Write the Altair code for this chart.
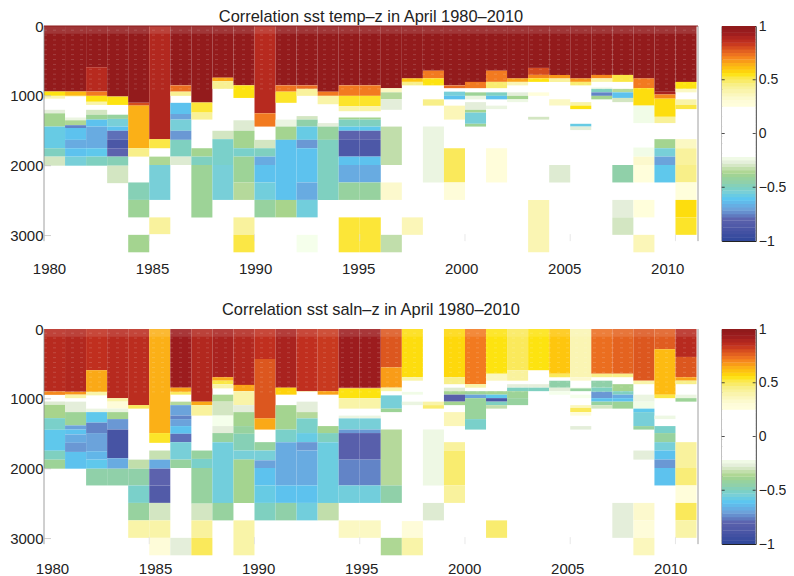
import altair as alt
import pandas as pd

FONT = "Liberation Sans"
INK = "#222222"

# value -> colour of the colour bar
cmap_values = [-1, -0.8, -0.71, -0.61, -0.55, -0.46, -0.37, -0.27, -0.21, 0.24, 0.31, 0.44, 0.55, 0.64, 0.72, 0.84, 0.93, 1]
cmap_colors = ["#2e479b", "#5c62ad", "#6d9fd8", "#5cc6f0", "#78cfd8", "#8fcfac", "#a8d48c", "#e4eeda", "#ffffff",
               "#ffffff", "#fdfbd8", "#f8f092", "#fde310", "#fbb017", "#f27a20", "#c4321f", "#9c1c1e", "#8c1a1a"]

years = list(range(1980, 2011))

# each column: (bottom depth of the run, correlation); 0 is a white run
temp_columns = [
 [(938,.97),(1000,.55),(1040,.38),(1200,0),(1250,-.27),(1440,-.38),(1750,-.58),(1870,-.5),(2000,-.3)],
 [(938,.97),(1000,.62),(1010,.38),(1310,0),(1350,-.25),(1420,-.36),(1460,-.75),(1630,-.62),(1750,-.68),(1870,-.62),(2000,-.55)],
 [(590,.97),(938,.87),(1000,.72),(1085,.55),(1130,.4),(1200,0),(1270,-.3),(1340,-.4),(1440,-.62),(1750,-.68),(1870,-.6),(2000,-.5)],
 [(1010,.97),(1130,.55),(1270,0),(1330,-.42),(1440,-.55),(1500,-.62),(1630,-.78),(1750,-.88),(1870,-.8),(2000,-.48),(2250,-.3)],
 [(1100,.97),(1140,.8),(1750,.64),(1870,.45),(2240,0),(2490,-.48),(2740,-.4),(2990,0),(3240,-.38)],
 [(1620,.88),(1750,.52),(1870,0),(1990,-.36),(2490,-.55),(2740,0),(2980,.42)],
 [(850,.97),(940,.74),(1000,.44),(1100,0),(1260,-.62),(1340,-.7),(1500,-.55),(1630,-.72),(1870,-.5),(1990,-.28)],
 [(1095,.97),(1240,.53),(1340,.43),(1750,0),(1870,-.38),(1990,-.5),(2740,-.4)],
 [(740,.97),(790,.65),(900,.44),(1500,0),(1620,-.3),(1990,-.52),(2490,-.55)],
 [(850,.97),(1030,.55),(1350,0),(1500,-.28),(1750,-.38),(1870,-.52),(2240,-.4),(2490,-.35),(2740,0),(2990,.42),(3240,.52)],
 [(1250,.87),(1440,.72),(1630,0),(1750,-.3),(1870,-.5),(1990,-.68),(2240,-.62),(2490,-.56),(2740,-.42)],
 [(850,.97),(940,.73),(1100,.54),(1340,0),(1440,-.25),(1630,-.38),(2490,-.62),(2740,-.37)],
 [(850,.97),(900,.74),(1000,.42),(1290,0),(1340,-.3),(1440,-.45),(1630,-.58),(1750,-.72),(2240,-.62),(2490,-.68),(2740,-.56),(2990,0),(3240,-.22)],
 [(940,.97),(1000,.72),(1120,.4),(1390,0),(1440,-.27),(1630,-.42),(2490,-.5)],
 [(850,.97),(1000,.72),(1150,.54),(1220,.4),(1310,0),(1340,-.38),(1440,-.5),(1500,-.6),(1630,-.8),(1870,-.87),(1990,-.62),(2240,-.68),(2490,-.42),(2740,0),(3240,.53)],
 [(850,.97),(1000,.72),(1150,.54),(1220,.4),(1310,0),(1340,-.38),(1440,-.5),(1500,-.6),(1630,-.8),(1870,-.87),(1990,-.62),(2240,-.68),(2490,-.42),(2740,0),(3240,.53)],
 [(890,.97),(950,.35),(1050,-.35),(1200,-.27),(1440,0),(1990,-.33),(2240,0),(2490,.33),(2990,0),(3240,-.33)],
 [(750,.97),(800,.6),(850,.45),(2740,0),(2990,.37)],
 [(640,.97),(750,.72),(850,.55),(1050,0),(1140,.45),(1440,0),(2240,-.25)],
 [(850,.97),(890,.75),(940,0),(1000,-.55),(1050,-.62),(1140,0),(1340,.37),(1750,0),(2240,.5),(2490,.3)],
 [(800,.97),(890,.72),(950,0),(1000,-.4),(1050,-.25),(1090,0),(1200,-.27),(1240,-.38),(1400,-.55),(1440,-.4)],
 [(640,.97),(800,.72),(890,.48),(950,0),(1000,-.5),(1050,-.62),(1140,0),(1190,-.25),(1750,0),(2240,.28)],
 [(750,.97),(800,.66),(850,.38),(950,0),(1000,-.27),(1050,-.38),(1090,-.24)],
 [(600,.97),(700,.8),(750,.7),(800,.55),(950,0),(1000,.27),(1300,0),(1340,-.3),(2490,0),(3240,.38)],
 [(700,.97),(750,.68),(800,.42),(1050,0),(1140,.35),(1990,0),(2240,-.28)],
 [(750,.97),(800,.68),(850,.48),(1090,0),(1140,.4),(1190,.55),(1400,0),(1440,-.58),(1490,-.27)],
 [(700,.97),(750,.7),(800,.4),(880,0),(900,-.24),(950,-.5),(1000,-.75),(1050,-.38)],
 [(700,.97),(800,.52),(900,0),(950,-.35),(1030,-.62),(1090,-.3),(1990,0),(2240,-.45),(2490,0),(2740,-.27),(2990,-.3)],
 [(750,.97),(890,.72),(1140,.56),(1390,-.23),(1740,0),(1870,-.23),(1990,.33),(2240,.27),(2490,0),(2740,.27),(2990,0),(3240,.37)],
 [(940,.97),(980,.9),(1040,.7),(1300,.56),(1390,.43),(1620,0),(1750,-.38),(1870,-.55),(1990,-.7),(2240,-.6)],
 [(800,.97),(900,.55),(950,.35),(1050,0),(1130,.4),(1190,.52),(1620,0),(1750,.35),(1990,.42),(2240,.45),(2490,.27),(2740,.56),(2990,.54)],
]

saln_columns = [
 [(895,.87),(943,.7),(1038,0),(1086,-.28),(1276,-.37),(1443,-.52),(1743,-.6),(1871,-.5),(2000,-.4)],
 [(900,.88),(940,.68),(990,.4),(1040,0),(1190,-.27),(1380,-.4),(1440,-.7),(1510,-.62),(1630,-.68),(1760,-.72),(2000,-.62)],
 [(590,.85),(900,.65),(950,.4),(1140,0),(1190,-.25),(1340,-.6),(1490,-.75),(1750,-.7),(1870,-.65),(2000,-.6),(2240,-.45)],
 [(990,.87),(1040,.4),(1140,.3),(1190,-.25),(1290,-.38),(1440,-.72),(1850,-.9),(2000,-.68),(2240,-.45)],
 [(1090,.86),(1140,.5),(1870,0),(2000,-.33),(2240,-.45),(2490,-.52),(2740,-.42),(2990,.4)],
 [(1490,.64),(1630,.54),(1740,0),(1870,-.32),(2000,-.68),(2240,-.8),(2490,-.85),(2740,-.3),(2990,.4),(3240,.3)],
 [(840,.93),(900,.66),(940,.5),(1040,0),(1090,-.35),(1240,-.7),(1290,-.75),(1390,-.7),(1500,-.62),(1620,-.78),(1870,-.55),(1990,-.42),(2990,0),(3240,-.27)],
 [(1040,.88),(1090,.65),(1240,.42),(1740,0),(1860,-.42),(1990,-.52),(2500,-.42),(2740,-.3),(2990,.42),(3240,.5)],
 [(690,.9),(740,.65),(790,.52),(850,.4),(940,0),(1040,-.36),(1240,-.3),(1390,-.22),(1490,-.27),(1620,-.42),(2490,-.56),(2740,-.42)],
 [(800,.88),(890,.66),(1090,.4),(1190,-.27),(1390,-.38),(1500,-.42),(1740,-.48),(1870,-.55),(2490,-.38),(2740,0),(3240,.4)],
 [(430,.85),(1280,.78),(1440,.65),(1620,0),(1740,-.42),(1880,-.55),(1990,-.7),(2240,-.62),(2490,-.58),(2740,-.5)],
 [(840,.9),(940,.58),(1090,0),(1440,-.38),(1620,-.52),(2240,-.68),(2490,-.62),(2740,-.45)],
 [(890,.85),(900,.38),(1040,0),(1190,-.27),(1280,-.35),(1490,-.52),(1620,-.58),(1740,-.72),(2240,-.68),(2490,-.62),(2740,-.56)],
 [(890,.83),(940,.66),(1390,0),(1490,-.38),(1620,-.5),(2490,-.57),(2740,-.33)],
 [(840,.93),(850,.86),(990,.55),(1140,.4),(1240,0),(1280,-.25),(1440,-.55),(1490,-.72),(1870,-.82),(2240,-.75),(2490,-.56),(2740,0),(2990,.35)],
 [(840,.93),(850,.86),(990,.55),(1140,.4),(1240,0),(1280,-.25),(1440,-.55),(1490,-.72),(1870,-.82),(2240,-.75),(2490,-.56),(2740,0),(2990,.35)],
 [(550,.78),(840,.67),(890,.4),(950,0),(1140,-.55),(1190,-.4),(1440,0),(2240,-.35),(2490,-.45),(2990,0),(3240,-.36)],
 [(690,.56),(740,.4),(900,0),(940,-.23),(1040,0),(1090,-.25),(2750,0),(2990,.3),(3240,.4)],
 [(1040,0),(1090,.4),(1140,.48),(1440,0),(2240,-.24),(2490,0),(2740,-.28)],
 [(690,.57),(790,.45),(840,0),(890,-.28),(940,-.38),(1040,-.82),(1090,-.38),(1190,0),(1390,.37),(1620,0),(1740,.42),(2240,.48),(2490,.42)],
 [(790,.72),(840,.4),(890,0),(940,-.4),(990,-.7),(1290,-.41),(1440,-.52)],
 [(640,.55),(740,.36),(890,0),(940,-.38),(990,-.6),(1040,-.88),(1090,-.5),(1140,-.33),(2740,0),(2990,.48)],
 [(590,.5),(740,.42),(790,0),(840,-.27),(890,-.5),(990,-.4),(1090,-.42)],
 [(590,.55),(790,0),(840,-.27),(890,-.5)],
 [(640,.6),(690,.5),(740,0),(840,-.45),(890,-.27),(940,-.22)],
 [(690,.38),(740,.33),(840,0),(850,-.25),(890,-.42),(940,0),(990,-.22),(1090,0),(1130,.36),(1190,.5),(1240,.3),(1390,0),(1440,-.27)],
 [(640,.74),(690,.45),(740,0),(840,-.45),(900,-.5),(990,-.72),(1040,-.62),(1090,-.42),(1140,-.3)],
 [(640,.76),(690,.45),(790,0),(890,-.38),(940,-.5),(990,-.68),(1040,-.62),(1140,-.4),(2490,0),(2990,-.27)],
 [(740,.78),(790,.4),(940,0),(1040,-.25),(1140,-.23),(1190,-.6),(1390,-.55),(1440,-.42),(1740,0),(1870,-.27),(2490,0),(2740,.33),(2990,.3),(3240,.36)],
 [(290,.77),(940,.62),(990,.52),(1240,0),(1290,-.24),(1390,0),(1490,-.52),(1620,-.42),(1740,-.55),(1870,-.62),(1990,-.72),(2240,-.62)],
 [(400,.87),(690,.78),(740,.66),(790,.45),(940,0),(990,-.25),(1040,-.4),(1620,0),(1990,.42),(2240,.47),(2490,.28),(2740,.5),(2990,.4)],
]

depth_ticks = [0, 1000, 2000, 3000]
year_ticks = [1980, 1985, 1990, 1995, 2000, 2005, 2010]
cbar_ticks = [-1, -0.5, 0, 0.5, 1]
dash_depths = [60, 130, 200, 270, 340, 410, 480, 550, 620, 690, 760, 830, 900]
X0, X1, DEPTH_MAX, AXIS_END = 1980, 2011.07, 3250, 3080

color_scale = alt.Scale(domain=cmap_values, range=cmap_colors)


def table(columns):
    rows = []
    for year, runs in zip(years, columns):
        top = 0
        for bottom, value in runs:
            if value != 0:
                rows.append({"x": year, "x2": year + 1, "top": top, "bottom": bottom, "r": value})
            top = bottom
    return pd.DataFrame(rows)


def panel(columns, title, title_offset, title_dy, label_expr, label_pad, top_line):
    xs = alt.Scale(domain=[X0, X1], nice=False, zero=False)
    ys = alt.Scale(domain=[0, DEPTH_MAX], reverse=True, nice=False)
    cells = alt.Chart(table(columns)).mark_rect(strokeWidth=0).encode(
        x=alt.X("x:Q", scale=xs, axis=alt.Axis(values=year_ticks, format="d", title=None, grid=False, domain=False,
                                              ticks=False, labelPadding=label_pad, labelOffset=alt.expr(label_expr),
                                              labelFlush=False)),
        x2="x2:Q",
        y=alt.Y("top:Q", scale=ys, axis=alt.Axis(values=depth_ticks, format="d", title=None, grid=False, domain=False,
                                                ticks=False, labelPadding=1, minExtent=36, maxExtent=36)),
        y2="bottom:Q",
        color=alt.Color("r:Q", scale=color_scale, legend=None),
    )
    dashes = alt.Chart(pd.DataFrame({"d": dash_depths})).mark_rule(
        color="white", opacity=0.2, strokeWidth=0.8, strokeDash=[3, 6]
    ).encode(y=alt.Y("d:Q", scale=ys), x=alt.value(0), x2=alt.value(654))
    sheen = alt.Chart(pd.DataFrame({"a": [0], "b": [110]})).mark_rect(color="white", opacity=0.12).encode(
        y=alt.Y("a:Q", scale=ys), y2="b:Q", x=alt.value(0), x2=alt.value(654))
    frame = alt.Chart(pd.DataFrame({"x": [X0, X1], "a": [0, 0], "b": [AXIS_END, AXIS_END]})).mark_rule(
        color="#888888", strokeWidth=0.8
    ).encode(x=alt.X("x:Q", scale=xs), y=alt.Y("a:Q", scale=ys), y2="b:Q")
    left_ticks = alt.Chart(pd.DataFrame({"d": depth_ticks[1:]})).mark_rule(color="#bbbbbb", strokeWidth=0.7).encode(
        y=alt.Y("d:Q", scale=ys), x=alt.value(0), x2=alt.value(7))
    bottom_ticks = alt.Chart(pd.DataFrame({"x": year_ticks[1:], "a": [2980] * 6, "b": [AXIS_END] * 6})).mark_rule(
        color="#dddddd", strokeWidth=0.7
    ).encode(x=alt.X("x:Q", scale=xs), y=alt.Y("a:Q", scale=ys), y2="b:Q")
    layers = [cells, bottom_ticks, dashes, sheen, frame, left_ticks]
    if top_line:
        layers.append(alt.Chart(pd.DataFrame({"d": [0]})).mark_rule(color="#8c1a1a", strokeWidth=1).encode(
            y=alt.Y("d:Q", scale=ys), x=alt.value(0), x2=alt.value(654)))
    return alt.layer(*layers).properties(
        width=654, height=227,
        view=alt.ViewConfig(stroke="transparent"),
        title=alt.TitleParams(title, font=FONT, fontSize=16.4, fontWeight="normal", color=INK, anchor="middle",
                              offset=title_offset, dy=title_dy),
    )


def colorbar():
    bands = pd.DataFrame({"lo": [-1 + i / 32 for i in range(64)]})
    bands["hi"] = bands["lo"] + 1 / 32 + 0.004
    bands["mid"] = bands["lo"] + 1 / 64
    ys = alt.Scale(domain=[-1, 1], nice=False)
    rects = alt.Chart(bands).mark_rect(strokeWidth=0, clip=True).encode(
        y=alt.Y("lo:Q", scale=ys, axis=alt.Axis(orient="right", values=cbar_ticks, format="~g", title=None, grid=False,
                                               domain=False, ticks=False, labelPadding=2.5, labelAlign="left",
                                               labelFontSize=14)),
        y2="hi:Q",
        x=alt.value(0), x2=alt.value(34),
        color=alt.Color("mid:Q", scale=color_scale, legend=None),
    )
    tick_df = pd.DataFrame({"v": cbar_ticks[1:-1]})
    left = alt.Chart(tick_df).mark_rule(color=INK, strokeWidth=0.8).encode(
        y=alt.Y("v:Q", scale=ys), x=alt.value(0), x2=alt.value(3))
    right = alt.Chart(tick_df).mark_rule(color=INK, strokeWidth=0.8).encode(
        y=alt.Y("v:Q", scale=ys), x=alt.value(31), x2=alt.value(34))
    return alt.layer(rects, left, right).properties(
        width=34, height=215, view=alt.ViewConfig(stroke=INK, strokeWidth=1))


row1 = alt.hconcat(
    panel(temp_columns, "Correlation sst temp\u2013z in April 1980\u20132010", -7, -1,
          "5 - 0.44 * (datum.value - 1980)", 8, True),
    colorbar(), spacing=23.7, bounds="flush")
row2 = alt.hconcat(
    panel(saln_columns, "Correlation sst saln\u2013z in April 1980\u20132010", 4, 0,
          "8 - 0.44 * (datum.value - 1980)", 5, False),
    colorbar(), spacing=23.7, bounds="flush")

chart = alt.vconcat(row1, row2, spacing=303, bounds="flush").properties(
    autosize=alt.AutoSizeParams(type="none"),
    padding={"left": 36, "top": 18, "right": 742, "bottom": 550},
).configure_axis(labelFont=FONT, labelFontSize=15, labelColor=INK)

chart.save("out.html", embed_options={"renderer": "svg", "actions": False})
